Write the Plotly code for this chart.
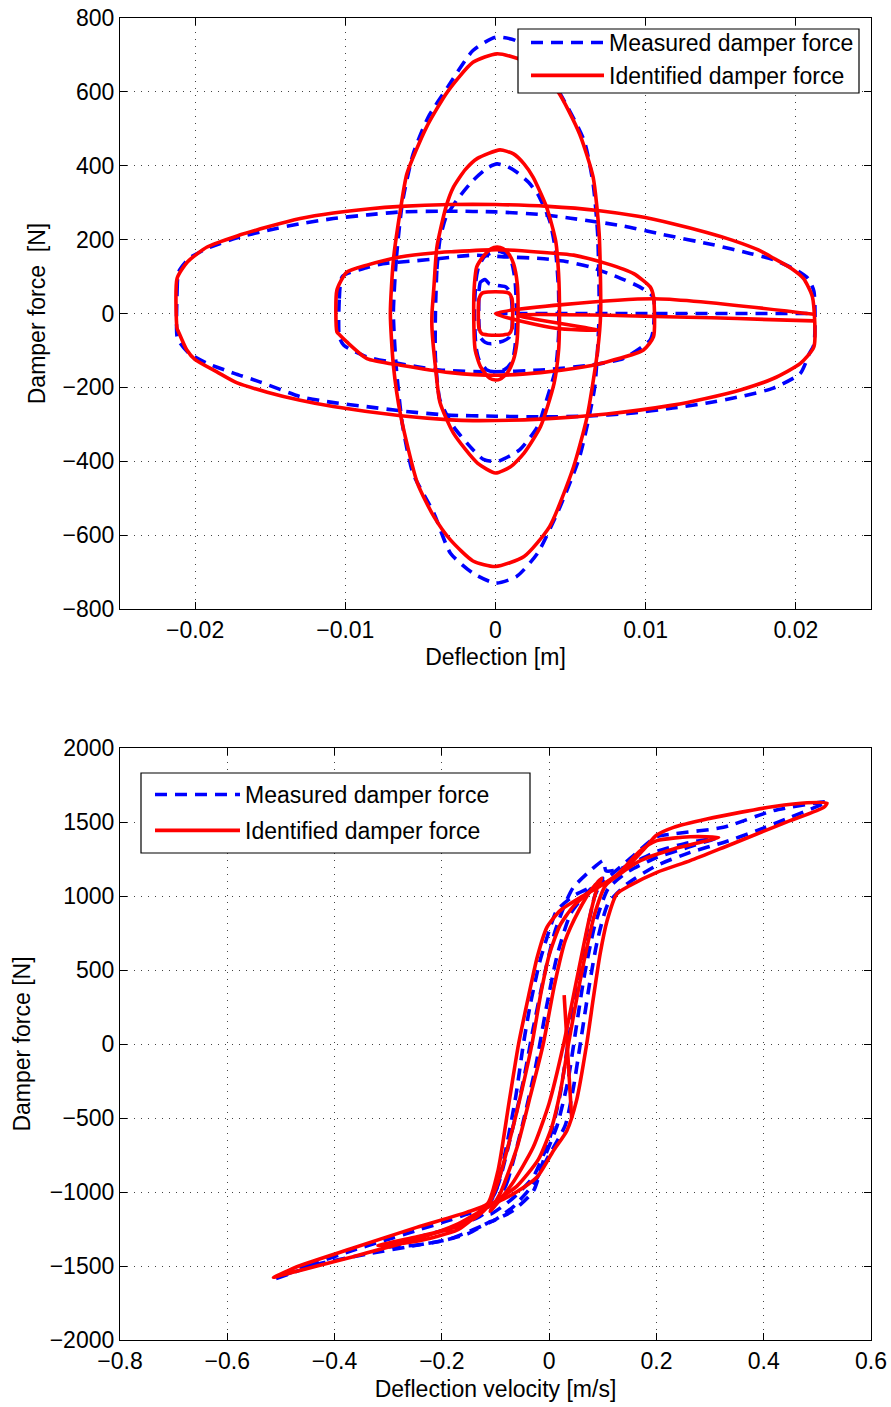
import plotly.graph_objects as go

# ---------------- Top plot: force vs deflection ----------------
# Measured (blue) loops, (deflection [m], force [N])
top_meas_A = [(-0.0212,-63),(-0.0212,60),(-0.0211,112),(-0.0204,149),(-0.0192,176),(-0.0172,205),(-0.0152,225),(-0.0130,243),(-0.0108,257),(-0.0085,267),(-0.0063,275),(-0.003,277),(0.0,275),(0.003,268),(0.005,258),(0.0085,237),(0.011,215),(0.0145,186),(0.017,162),(0.0185,146),(0.0200,118),(0.0208,95),(0.0212,60),(0.0212,-85),(0.0209,-108),(0.0203,-162),(0.0185,-202),(0.0163,-225),(0.014,-243),(0.0118,-256),(0.009,-270),(0.006,-278),(0.003,-280),(0.0,-278),(-0.0032,-275),(-0.0060,-265),(-0.0086,-252),(-0.0110,-240),(-0.013,-225),(-0.0157,-185),(-0.0174,-162),(-0.0192,-135),(-0.0204,-108),(-0.0210,-80),(-0.0212,-63)]
top_meas_B = [(-0.0104,-63),(-0.0104,40),(-0.0102,100),(-0.0086,124),(-0.0075,135),(-0.0055,142),(-0.0037,149),(-0.0015,158),(0.0008,153),(0.003,149),(0.0048,140),(0.0063,126),(0.0081,99),(0.0096,72),(0.0105,45),(0.0105,-45),(0.0103,-72),(0.0085,-122),(0.0063,-140),(0.003,-153),(-0.0004,-158),(-0.0037,-153),(-0.0052,-144),(-0.0086,-117),(-0.0101,-86),(-0.0104,-63)]
top_meas_C = [(-0.0011,60),(-0.0010,85),(-0.0007,92),(-0.0004,80),(-0.0001,78),(0.0003,75),(0.0007,72),(0.0010,55),(0.0011,20),(0.0011,-40),(0.0009,-65),(0.0005,-75),(0.0002,-78),(-0.0003,-82),(-0.0007,-78),(-0.0010,-65),(-0.0011,-30),(-0.0011,60)]
top_meas_D = [(-0.0014,0),(-0.0013,90),(-0.0011,130),(-0.0007,155),(-0.0002,165),(0.0003,168),(0.0008,158),(0.0011,135),(0.0013,90),(0.0014,0),(0.0013,-90),(0.0011,-130),(0.0006,-152),(0.0,-158),(-0.0006,-152),(-0.0011,-125),(-0.0013,-90),(-0.0014,0)]
top_meas_E = [(-0.0040,0),(-0.0039,120),(-0.0037,200),(-0.0033,260),(-0.0026,306),(-0.0015,360),(-0.0005,395),(0.0001,405),(0.0008,398),(0.0014,383),(0.0022,355),(0.0028,324),(0.0036,252),(0.0040,170),(0.0042,60),(0.0042,-60),(0.0040,-150),(0.0034,-234),(0.0028,-306),(0.0016,-369),(0.0001,-401),(-0.0008,-395),(-0.0015,-369),(-0.0028,-306),(-0.0037,-234),(-0.0040,-120),(-0.0040,0)]
top_meas_F = [(-0.0068,0),(-0.0066,150),(-0.0062,300),(-0.0055,430),(-0.0045,530),(-0.0032,612),(-0.0015,712),(0.0,748),(0.0014,738),(0.0030,670),(0.0043,595),(0.0059,468),(0.0065,351),(0.0068,216),(0.0069,0),(0.0066,-200),(0.0056,-388),(0.0043,-523),(0.0028,-649),(0.0014,-712),(0.0,-730),(-0.0015,-703),(-0.003,-649),(-0.0041,-541),(-0.0055,-432),(-0.0062,-300),(-0.0066,-150),(-0.0068,0)]
top_meas_T = [(0.0,0),(0.0212,0)]

# Identified (red) loops
top_iden_A = [(-0.0212,-40),(-0.0212,95),(-0.0205,140),(-0.0192,180),(-0.0172,210),(-0.0152,234),(-0.0130,257),(-0.0108,272),(-0.0085,283),(-0.0063,290),(-0.003,295),(0.0,295),(0.0035,290),(0.0068,279),(0.0095,263),(0.0118,243),(0.0140,220),(0.0158,198),(0.0175,172),(0.0185,150),(0.0197,122),(0.0205,95),(0.0211,45),(0.0212,-90),(0.0203,-135),(0.0185,-176),(0.0163,-207),(0.0140,-230),(0.0118,-248),(0.0074,-272),(0.0030,-286),(-0.0015,-290),(-0.0030,-288),(-0.0063,-277),(-0.0108,-252),(-0.0130,-235),(-0.0152,-213),(-0.0172,-188),(-0.01855,-158),(-0.0200,-125),(-0.02055,-99),(-0.0211,-50),(-0.0212,-40)]
top_iden_B = [(-0.01056,-50),(-0.01056,63),(-0.0099,112),(-0.00856,131),(-0.00635,153),(-0.00413,164),(-0.0030,167),(0.0001,173),(0.003,166),(0.0052,158),(0.0074,135),(0.0092,108),(0.0103,72),(0.01052,45),(0.01052,-63),(0.00985,-99),(0.0074,-131),(0.0052,-149),(0.003,-160),(0.0001,-167),(-0.003,-160),(-0.0063,-140),(-0.00856,-122),(-0.0099,-77),(-0.01045,-55),(-0.01056,-50)]
top_iden_C = [(-0.0011,40),(-0.0009,55),(-0.0005,58),(0.0005,58),(0.0009,55),(0.0011,40),(0.0011,-40),(0.0009,-55),(0.0005,-58),(-0.0005,-58),(-0.0009,-55),(-0.0011,-40),(-0.0011,40)]
top_iden_D = [(-0.00145,0),(-0.0014,80),(-0.00125,126),(-0.0008,155),(-0.0003,175),(0.0001,180),(0.0005,176),(0.0009,160),(0.0012,135),(0.00145,80),(0.0015,0),(0.00142,-80),(0.0012,-125),(0.0008,-160),(0.0003,-178),(0.0,-180),(-0.0004,-175),(-0.001,-144),(-0.00135,-99),(-0.00145,0)]
top_iden_E = [(-0.00423,0),(-0.0041,72),(-0.0039,180),(-0.0033,288),(-0.0028,342),(-0.0020,390),(-0.0012,420),(0.0003,443),(0.0012,432),(0.0019,405),(0.0025,369),(0.0034,288),(0.0040,198),(0.0042,108),(0.00426,0),(0.0042,-100),(0.0039,-189),(0.0030,-306),(0.0019,-378),(0.0010,-415),(0.0,-432),(-0.0012,-405),(-0.0028,-324),(-0.0037,-240),(-0.0040,-144),(-0.00423,-40),(-0.00423,0)]
top_iden_F = [(-0.0070,0),(-0.0068,144),(-0.0063,288),(-0.0059,378),(-0.0046,504),(-0.0032,600),(-0.0015,680),(0.0001,703),(0.0021,680),(0.0041,604),(0.0056,486),(0.0065,369),(0.0069,216),(0.0070,0),(0.0068,-100),(0.0061,-279),(0.0052,-415),(0.0036,-577),(0.0019,-658),(0.0,-685),(-0.0015,-670),(-0.0030,-613),(-0.0041,-550),(-0.0052,-459),(-0.0063,-279),(-0.0068,-140),(-0.0070,0)]
top_iden_T = [(0.0212,-20),(0.0015,-5),(0.0068,-45),(0.0040,-40),(0.0,0),(0.0105,40),(0.0212,-2)]

# ---------------- Bottom plot: force vs velocity ----------------
bot_meas_1 = [(-0.511,-1588),(-0.45,-1500),(-0.371,-1400),(-0.309,-1330),(-0.247,-1260),(-0.185,-1190),(-0.154,-1150),(-0.123,-1120),(-0.10,-1000),(-0.08,-700),(-0.062,-350),(-0.048,0),(-0.035,270),(-0.017,563),(0.002,788),(0.014,901),(0.045,1000),(0.1,1100),(0.15,1250),(0.2,1400),(0.232,1420),(0.325,1464),(0.4185,1577),(0.518,1636),(0.449,1531),(0.387,1441),(0.325,1362),(0.263,1295),(0.2,1205),(0.145,1081),(0.11,950),(0.09,700),(0.075,400),(0.058,0),(0.045,-300),(0.03,-550),(0.0,-750),(-0.03,-950),(-0.067,-1100),(-0.104,-1194),(-0.154,-1273),(-0.185,-1318),(-0.247,-1360),(-0.34,-1420),(-0.434,-1490),(-0.511,-1588)]
bot_meas_2 = [(-0.31,-1370),(-0.25,-1310),(-0.185,-1245),(-0.123,-1150),(-0.095,-950),(-0.07,-600),(-0.048,-250),(-0.03,100),(-0.01,450),(0.01,750),(0.03,950),(0.045,1058),(0.08,1182),(0.101,1239),(0.106,1170),(0.13,1180),(0.2,1300),(0.26,1360),(0.31,1390),(0.26,1330),(0.2,1260),(0.145,1160),(0.11,1050),(0.085,800),(0.065,450),(0.05,100),(0.035,-250),(0.015,-550),(-0.01,-780),(-0.029,-991),(-0.067,-1126),(-0.104,-1194),(-0.11,-1200),(-0.15,-1280),(-0.2,-1330),(-0.25,-1360),(-0.31,-1370)]
bot_meas_3 = [(-0.11,-1150),(-0.08,-950),(-0.05,-550),(-0.025,-150),(-0.005,250),(0.015,600),(0.04,880),(0.07,1020),(0.1,1120),(0.085,1000),(0.07,750),(0.05,350),(0.035,0),(0.02,-350),(0.0,-650),(-0.03,-900),(-0.07,-1050),(-0.11,-1150)]

bot_iden_1 = [(-0.514,-1577),(-0.465,-1498),(-0.371,-1385),(-0.247,-1239),(-0.154,-1138),(-0.115,-1080),(-0.095,-850),(-0.075,-400),(-0.057,0),(-0.038,330),(-0.022,590),(-0.004,790),(0.02,900),(0.058,990),(0.101,1080),(0.145,1195),(0.18,1330),(0.2,1410),(0.232,1464),(0.294,1520),(0.356,1565),(0.419,1605),(0.481,1630),(0.518,1628),(0.512,1599),(0.449,1509),(0.387,1419),(0.325,1328),(0.263,1239),(0.201,1160),(0.15,1070),(0.126,1013),(0.108,833),(0.095,608),(0.082,300),(0.07,0),(0.051,-383),(0.033,-586),(0.008,-721),(-0.023,-901),(-0.067,-1014),(-0.116,-1104),(-0.17,-1215),(-0.247,-1318),(-0.371,-1442),(-0.496,-1560),(-0.514,-1577)]
bot_iden_2 = [(-0.319,-1363),(-0.25,-1305),(-0.185,-1250),(-0.14,-1180),(-0.116,-1104),(-0.095,-930),(-0.07,-600),(-0.05,-300),(-0.032,0),(-0.015,350),(0.0,600),(0.02,800),(0.045,930),(0.08,1040),(0.12,1120),(0.17,1306),(0.201,1374),(0.263,1400),(0.316,1396),(0.29,1370),(0.232,1318),(0.17,1239),(0.132,1149),(0.105,1070),(0.085,880),(0.065,560),(0.05,280),(0.036,0),(0.022,-300),(0.005,-560),(-0.02,-780),(-0.06,-960),(-0.116,-1104),(-0.17,-1255),(-0.25,-1335),(-0.319,-1363)]
bot_iden_3 = [(-0.11,-1130),(-0.09,-1000),(-0.06,-700),(-0.035,-350),(-0.011,0),(0.01,400),(0.03,700),(0.055,900),(0.08,1050),(0.098,1120),(0.09,1060),(0.075,850),(0.055,500),(0.027,0),(0.0,-400),(-0.03,-700),(-0.07,-950),(-0.11,-1130)]
bot_iden_T = [(0.028,330),(0.042,-500)]

top_x_ticks = [-0.02, -0.01, 0, 0.01, 0.02]
top_y_ticks = [-800, -600, -400, -200, 0, 200, 400, 600, 800]
bot_x_ticks = [-0.8, -0.6, -0.4, -0.2, 0, 0.2, 0.4, 0.6]
bot_y_ticks = [-2000, -1500, -1000, -500, 0, 500, 1000, 1500, 2000]


def join(loops):
    xs, ys = [], []
    for lp in loops:
        xs += [p[0] for p in lp] + [None]
        ys += [p[1] for p in lp] + [None]
    return xs, ys


FONT = "Liberation Sans, Arial, Helvetica, sans-serif"
FS = 23
BLUE = "#0000ff"
RED = "#ff0000"
LW = 3.6
DASH = "12px,8px"

fig = go.Figure()

tmx, tmy = join([top_meas_A, top_meas_B, top_meas_C, top_meas_D, top_meas_E, top_meas_F, top_meas_T])
tix, tiy = join([top_iden_A, top_iden_B, top_iden_C, top_iden_D, top_iden_E, top_iden_F, top_iden_T])
bmx, bmy = join([bot_meas_1, bot_meas_2, bot_meas_3])
bix, biy = join([bot_iden_1, bot_iden_2, bot_iden_3, bot_iden_T])

fig.add_trace(go.Scatter(x=tmx, y=tmy, mode="lines", name="Measured damper force",
                         line=dict(color=BLUE, width=LW, dash=DASH, shape="spline", smoothing=0.6),
                         xaxis="x", yaxis="y", legend="legend", legendgroup="m1"))
fig.add_trace(go.Scatter(x=tix, y=tiy, mode="lines", name="Identified damper force",
                         line=dict(color=RED, width=LW, shape="spline", smoothing=0.6),
                         xaxis="x", yaxis="y", legend="legend", legendgroup="i1"))
fig.add_trace(go.Scatter(x=bmx, y=bmy, mode="lines", name="Measured damper force",
                         line=dict(color=BLUE, width=LW, dash=DASH, shape="spline", smoothing=0.6),
                         xaxis="x2", yaxis="y2", legend="legend2", legendgroup="m2"))
fig.add_trace(go.Scatter(x=bix, y=biy, mode="lines", name="Identified damper force",
                         line=dict(color=RED, width=LW, shape="spline", smoothing=0.6),
                         xaxis="x2", yaxis="y2", legend="legend2", legendgroup="i2"))

W, H = 891, 1407
xd = [120 / W, 871 / W]
y1d = [(H - 609) / H, (H - 18) / H]
y2d = [(H - 1340) / H, (H - 748) / H]

axis_common = dict(showline=True, linecolor="black", linewidth=1.2, mirror="ticks",
                   ticks="inside", ticklen=7, tickcolor="black", tickwidth=1,
                   showgrid=True, gridcolor="#444444", gridwidth=1, griddash="1px,6px",
                   zeroline=False, automargin=False,
                   tickfont=dict(family=FONT, size=FS, color="black"),
                   title_font=dict(family=FONT, size=FS, color="black"))

# legend frames (paper coordinates from pixel boxes)
legend_boxes = [(518, 29, 859, 93), (141, 773, 530, 853)]
shapes = [dict(type="rect", xref="paper", yref="paper", layer="above",
               x0=a / W, x1=c / W, y0=1 - d / H, y1=1 - b / H,
               line=dict(color="black", width=1.2), fillcolor="white")
          for (a, b, c, d) in legend_boxes]

fig.update_layout(
    width=W, height=H, margin=dict(l=0, r=0, t=0, b=0, autoexpand=False),
    paper_bgcolor="white", plot_bgcolor="white",
    font=dict(family=FONT, size=FS, color="black"),
    shapes=shapes,
    xaxis=dict(domain=xd, range=[-0.025, 0.025], tickvals=top_x_ticks, anchor="y",
               title=dict(text="Deflection [m]", standoff=7), **axis_common),
    yaxis=dict(domain=y1d, range=[-800, 800], tickvals=top_y_ticks, anchor="x",
               title=dict(text="Damper force \u00a0[N]", standoff=10), **axis_common),
    xaxis2=dict(domain=xd, range=[-0.8, 0.6], tickvals=bot_x_ticks, anchor="y2",
                title=dict(text="Deflection velocity [m/s]", standoff=8), **axis_common),
    yaxis2=dict(domain=y2d, range=[-2000, 2000], tickvals=bot_y_ticks, anchor="x2",
                title=dict(text="Damper force [N]", standoff=12), **axis_common),
    legend=dict(x=526 / W, y=1 - 21 / H, xanchor="left", yanchor="top",
                bgcolor="rgba(0,0,0,0)", borderwidth=0,
                font=dict(family=FONT, size=FS, color="black"),
                itemwidth=73, traceorder="grouped", tracegroupgap=0),
    legend2=dict(x=150 / W, y=1 - 773 / H, xanchor="left", yanchor="top",
                 bgcolor="rgba(0,0,0,0)", borderwidth=0,
                 font=dict(family=FONT, size=FS, color="black"),
                 itemwidth=85, traceorder="grouped", tracegroupgap=3),
    showlegend=True,
)

fig.write_html("out.html", config={"displayModeBar": False},
               post_script="document.body.style.margin='0px';document.body.style.overflow='hidden';")
